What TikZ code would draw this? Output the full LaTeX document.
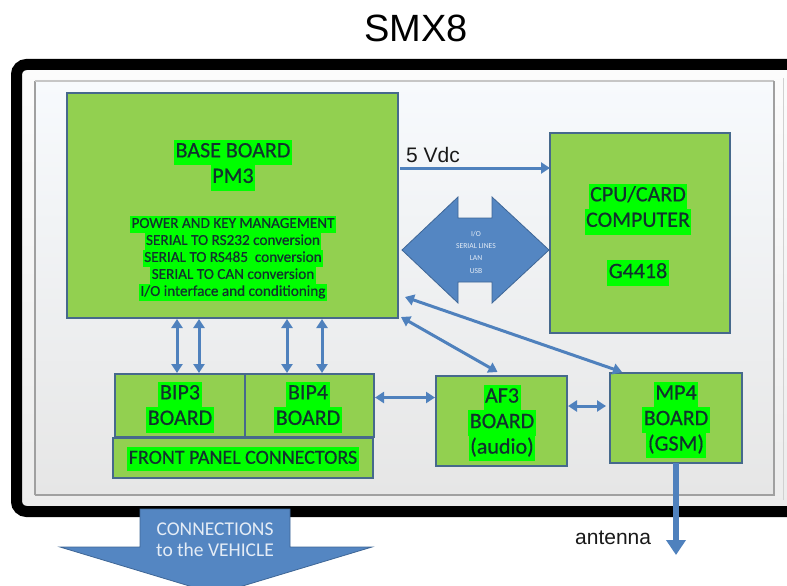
\documentclass[tikz,border=0pt]{standalone}
\usepackage{fontspec}
\setmainfont{Carlito}
\newfontfamily\labf{Carlito}[FakeBold=0.5]
\newfontfamily\arialf{Liberation Sans}
\usetikzlibrary{arrows.meta,calc}
\definecolor{boardgreen}{RGB}{146,208,80}
\definecolor{boardedge}{RGB}{70,105,140}
\definecolor{hlgreen}{RGB}{0,255,0}
\definecolor{txtdark}{RGB}{18,50,46}
\definecolor{arrowblue}{RGB}{79,129,189}
\definecolor{blockblue}{RGB}{84,134,194}
\definecolor{blockedge}{RGB}{62,102,150}
\definecolor{lighttxt}{RGB}{228,236,246}
\definecolor{paneltop}{RGB}{247,250,253}
\definecolor{panelmid}{RGB}{224,231,239}
\definecolor{panelbot}{RGB}{230,230,230}
\definecolor{paneledge}{RGB}{160,160,160}
\definecolor{gaptop}{RGB}{252,252,252}
\definecolor{gapbot}{RGB}{236,236,236}
\definecolor{labelgrey}{RGB}{25,25,25}
\setlength{\fboxsep}{0pt}
\newcommand\hl[1]{\colorbox{hlgreen}{\hspace{1.5pt}\strut#1\hspace{1.5pt}}}
\newcommand\bigfs{\labf\fontsize{22pt}{25.5pt}\selectfont}
\newcommand\smallfs{\labf\fontsize{15.2pt}{17pt}\selectfont}
\newcommand\frontfs{\labf\fontsize{20pt}{24pt}\selectfont}
\newcommand\tinyfs{\fontsize{7.6pt}{12.3pt}\selectfont}
\newcommand\connfs{\fontsize{19.5pt}{21pt}\selectfont}
\tikzset{
  board/.style={draw=boardedge, line width=1.6pt, fill=boardgreen, inner sep=0pt, outer sep=0pt, anchor=north west},
  lbl/.style={text=txtdark, align=center, inner sep=0pt, font=\bigfs},
  sml/.style={text=txtdark, align=center, inner sep=0pt, font=\smallfs},
  darr/.style={draw=arrowblue, line width=3pt, {Triangle[length=9pt,width=11pt]}-{Triangle[length=9pt,width=11pt]}},
  sarr/.style={draw=arrowblue, line width=3pt, -{Triangle[length=9pt,width=11pt]}},
  antarr/.style={draw=arrowblue, line width=6pt, -{Triangle[length=15pt,width=19pt]}},
  blockarr/.style={fill=blockblue, draw=blockedge, line width=0.8pt},
  ariallbl/.style={text=labelgrey, inner sep=0pt, font={\arialf\fontsize{21pt}{24pt}\selectfont}},
}
\begin{document}
\begin{tikzpicture}[x=1pt, y=-1pt]
\useasboundingbox (0,0) rectangle (787,586);
\clip (0,0) rectangle (787,586);
\fill[white] (0,0) rectangle (787,586);
% title
\node[inner sep=0pt, anchor=base, font={\arialf\fontsize{38pt}{40pt}\selectfont}] (title) at (416,42) {SMX8};
% frame interior
\shade[top color=gaptop, bottom color=gapbot] (16,64) rectangle (800,512);
\shade[top color=paneltop, middle color=panelmid, bottom color=panelbot] (35,81) rectangle (774,495);
\draw[paneledge, line width=2pt] (35,495) -- (35,81);
\draw[paneledge!60, line width=1.2pt] (35,81) -- (774,81);
\draw[paneledge, line width=2.5pt] (774,81) -- (774,495) -- (35,495);
\draw[paneledge!50, line width=1pt] (783,78) -- (783,500);
% black frame
\draw[black, line width=11pt, rounded corners=10pt] (16.5,64.5) rectangle (812,511.5);
% boards
\node[board, minimum width=331pt, minimum height=225pt] (base) at (67,93) {};
\node[board, minimum width=180pt, minimum height=200pt] (cpu) at (550,133) {};
\node[board, minimum width=130pt, minimum height=63pt] (bip3) at (115,374) {};
\node[board, minimum width=129pt, minimum height=63pt] (bip4) at (245,374) {};
\node[board, minimum width=260pt, minimum height=40pt] (front) at (113,438) {};
\node[board, minimum width=131pt, minimum height=90pt] (af3) at (436,376) {};
\node[board, minimum width=132pt, minimum height=90pt] (mp4) at (610,373) {};
% board texts
\node[lbl] (basetitle) at (233,165) {\hl{BASE BOARD}\\\hl{PM3}};
\node[sml] (basetext) at (233,258.5) {\hl{POWER AND KEY MANAGEMENT}\\\hl{SERIAL TO RS232 conversion}\\\hl{SERIAL TO RS485\ \ conversion}\\\hl{SERIAL TO CAN conversion}\\\hl{I/O interface and conditioning}};
\node[lbl] (cputitle) at (638,209) {\hl{CPU/CARD}\\\hl{COMPUTER}};
\node[lbl] (cpuname) at (638,273) {\hl{G4418}};
\node[lbl] (bip3txt) at (180,407) {\hl{BIP3}\\\hl{BOARD}};
\node[lbl] (bip4txt) at (308,407) {\hl{BIP4}\\\hl{BOARD}};
\node[text=txtdark, inner sep=0pt, font=\frontfs] (fronttxt) at (243,459) {\hl{FRONT PANEL CONNECTORS}};
\node[lbl] (af3txt) at (502,423) {\hl{AF3}\\\hl{BOARD}\\\hl{(audio)}};
\node[lbl] (mp4txt) at (676,420) {\hl{MP4}\\\hl{BOARD}\\\hl{(GSM)}};
% 5 Vdc
\coordinate (p5) at ([xshift=2pt,yshift=-75pt]base.north east);
\draw[sarr] (p5) -- (p5 -| cpu.west);
\node[ariallbl, anchor=base west] (v5lbl) at (406,162) {5 Vdc};
% I/O block arrow
\path[blockarr] (402,250) -- (458,197) -- (458,218) -- (492,218) -- (492,197) -- (549,250) -- (492,303) -- (492,282) -- (458,282) -- (458,303) -- cycle;
\node[text=lighttxt, align=center, inner sep=0pt, font=\tinyfs] (iotxt) at (476,252) {I/O\\SERIAL LINES\\LAN\\USB};
% vertical arrows
\coordinate (v1) at ([xshift=62pt]bip3.north west);
\coordinate (v2) at ([xshift=84pt]bip3.north west);
\coordinate (v3) at ([xshift=42pt]bip4.north west);
\coordinate (v4) at ([xshift=77pt]bip4.north west);
\draw[darr, shorten <=1pt, shorten >=1pt] (v1 |- base.south) -- (v1);
\draw[darr, shorten <=1pt, shorten >=1pt] (v2 |- base.south) -- (v2);
\draw[darr, shorten <=1pt, shorten >=1pt] (v3 |- base.south) -- (v3);
\draw[darr, shorten <=1pt, shorten >=1pt] (v4 |- base.south) -- (v4);
% horizontal arrows
\coordinate (h1) at ([yshift=8pt]bip4.east);
\draw[darr, shorten <=1pt, shorten >=1pt] (h1) -- (h1 -| af3.west);
\coordinate (h2) at ([yshift=15pt]af3.east);
\draw[darr, shorten <=1pt, shorten >=4pt] (h2) -- (h2 -| mp4.west);
% diagonal arrows
\draw[darr] ([xshift=3pt,yshift=1pt]base.south east) -- ([xshift=-4pt,yshift=4pt]af3.north);
\draw[darr] ([xshift=7pt,yshift=21pt]base.south east) -- ([xshift=-54pt,yshift=1pt]mp4.north);
% connections arrow
\path[blockarr] (140,509) -- (290,509) -- (290,547) -- (372,547) -- (216,594) -- (60,547) -- (140,547) -- cycle;
\node[text=lighttxt, align=center, inner sep=0pt, font=\connfs] (conntxt) at (215,540) {CONNECTIONS\\to the VEHICLE};
% antenna
\coordinate (antend) at ([yshift=-92pt]mp4.south);
\draw[antarr] (mp4.south) -- (antend);
\node[ariallbl, anchor=base west] (antlbl) at (575,544) {antenna};
\end{tikzpicture}
\end{document}
